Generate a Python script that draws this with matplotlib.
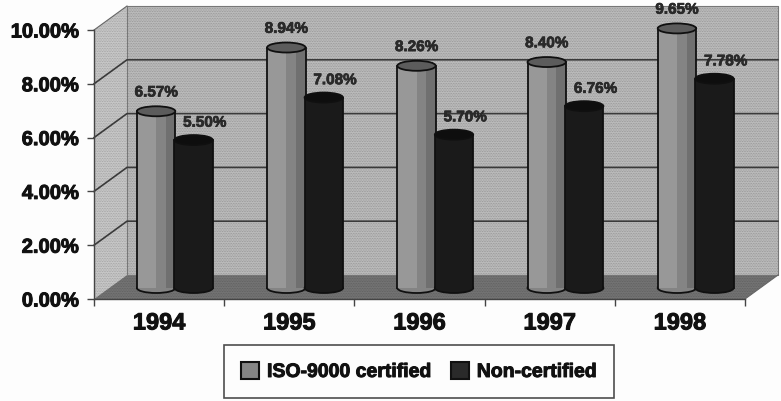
import matplotlib
matplotlib.use("Agg")
import matplotlib.pyplot as plt
import matplotlib.patheffects as pe
from matplotlib.patches import Ellipse, Patch, Polygon
from matplotlib.ticker import FuncFormatter

plt.rcParams['font.family'] = ['Liberation Sans', 'DejaVu Sans']
plt.rcParams['font.weight'] = 'bold'
plt.rcParams['hatch.linewidth'] = 0.4

years = ['1994', '1995', '1996', '1997', '1998']
iso_certified = [6.57, 8.94, 8.26, 8.40, 9.65]
non_certified = [5.50, 7.08, 5.70, 6.76, 7.78]
y_ticks = [0, 2, 4, 6, 8, 10]

W, H = 781, 402
# front plane of the 3d box, in pixels
LEFT, RIGHT, BOTTOM, TOP = 94, 745, 300, 31

fig = plt.figure(figsize=(W / 100, H / 100), dpi=100, facecolor='#fdfdfd')
ax = fig.add_axes([LEFT / W, 1 - BOTTOM / H, (RIGHT - LEFT) / W, (BOTTOM - TOP) / H])
ax.set_xlim(-0.5, 4.5)
ax.set_ylim(0, 10)
ax.patch.set_visible(False)

# depth of the box in data units
dx = 33 / ((RIGHT - LEFT) / 5)
dy = 24 / ((BOTTOM - TOP) / 10)
py = 10 / (BOTTOM - TOP)  # one pixel in y data units

line = '#3a3a3a'
x0, x1 = -0.5, 4.5

# walls and floor
ax.add_patch(Polygon([(x0 + dx, dy), (x1 + dx, dy), (x1 + dx, 10 + dy), (x0 + dx, 10 + dy)],
                     fc='#bcbcbc', ec='#8c8c8c', hatch='..........', lw=0, zorder=0, clip_on=False))
ax.add_patch(Polygon([(x0, 0), (x0 + dx, dy), (x0 + dx, 10 + dy), (x0, 10)],
                     fc='#c8c8c8', ec='#989898', hatch='..........', lw=0, zorder=0, clip_on=False))
ax.add_patch(Polygon([(x0, 0), (x1, 0), (x1 + dx, dy), (x0 + dx, dy)],
                     fc='#747474', ec='#5a5a5a', hatch='..........', lw=0, zorder=0.5, clip_on=False))
ax.plot([x0 + dx, x1 + dx, x1 + dx, x0 + dx, x0 + dx], [dy, dy, 10 + dy, 10 + dy, dy],
        color='#777777', lw=0.8, zorder=0.6, clip_on=False)
ax.plot([x0, x0 + dx], [10, 10 + dy], color='#666666', lw=0.8, zorder=0.6, clip_on=False)
ax.plot([x1, x1 + dx], [0, dy], color='#666666', lw=0.8, zorder=0.6, clip_on=False)

# grid lines on side and back wall
for t in y_ticks[1:-1]:
    ax.plot([x0, x0 + dx, x1 + dx], [t, t + dy, t + dy], color=line, lw=1.2, zorder=1, clip_on=False)


def cylinder(x, value, width, colors, top_color, bottom_color, z):
    base = 11 * py
    ell_h = 10 * py
    # one bar per facet, light to dark left to right
    n = len(colors)
    w = width / n
    ax.add_patch(Ellipse((x, base), width, ell_h, fc=bottom_color, ec='#101010', lw=1.3, zorder=z - 0.1, clip_on=False))
    for k, c in enumerate(colors):
        ax.bar(x - width / 2 + w * (k + 0.5), value, w, bottom=base, color=c, lw=0, zorder=z, clip_on=False)
    ax.plot([x - width / 2] * 2, [base, base + value], color='#101010', lw=1.3, zorder=z + 0.02, clip_on=False)
    ax.plot([x + width / 2] * 2, [base, base + value], color='#101010', lw=1.3, zorder=z + 0.02, clip_on=False)
    ax.add_patch(Ellipse((x, base + value), width, ell_h, fc=top_color, ec='#101010', lw=1.3, zorder=z + 0.03, clip_on=False))


bar_w = 0.295
off_grey = -0.023
off_dark = 0.265
halo = [pe.withStroke(linewidth=0.5, foreground='#222222')]
base_px = 11 * py

for i, year in enumerate(years):
    cylinder(i + off_grey, iso_certified[i], bar_w, ['#989898', '#989898', '#848484', '#707070'], '#5c5c5c', '#848484', 3)
    cylinder(i + off_dark, non_certified[i], bar_w, ['#1a1a1a'], '#0e0e0e', '#1a1a1a', 4)
    ax.annotate('%.2f%%' % iso_certified[i], (i + off_grey, iso_certified[i] + base_px), xytext=(0, 13.5),
                textcoords='offset points', ha='center', va='center', fontsize=11, color='#2a2a2a',
                zorder=6, annotation_clip=False, path_effects=halo)
    ax.annotate('%.2f%%' % non_certified[i], (i + off_dark, non_certified[i] + base_px), xytext=(8, 12.5),
                textcoords='offset points', ha='center', va='center', fontsize=11, color='#2a2a2a',
                zorder=6, annotation_clip=False, path_effects=halo)

# axes
for s in ['top', 'right']:
    ax.spines[s].set_visible(False)
for s in ['left', 'bottom']:
    ax.spines[s].set_color('#444444')
    ax.spines[s].set_linewidth(1.0)
    ax.spines[s].set_zorder(2)

ax.set_yticks(y_ticks)
ax.yaxis.set_major_formatter(FuncFormatter(lambda v, p: '%.2f%%' % v))
ax.tick_params(axis='y', length=5, width=1, color='#444444', labelsize=14.5, pad=6, labelcolor='#111111')
ax.set_xticks([i - 0.5 for i in range(len(years) + 1)])
ax.set_xticklabels([])
ax.set_xticks(range(len(years)), minor=True)
ax.set_xticklabels(years, minor=True, fontsize=17, color='#111111')
ax.tick_params(axis='x', which='major', length=5, width=1, color='#444444')
ax.tick_params(axis='x', which='minor', length=0, pad=9)
for lab in ax.get_yticklabels() + ax.get_xticklabels(minor=True):
    lab.set_path_effects([pe.withStroke(linewidth=0.7, foreground='#111111')])

# legend
handles = [Patch(fc='#868686', ec='#111111', lw=1.5, label='ISO-9000 certified'),
           Patch(fc='#2a2a2a', ec='#111111', lw=1.5, label='Non-certified')]
leg = fig.legend(handles=handles, ncol=2, loc='center',
                 bbox_to_anchor=((225 + 613) / 2 / W, 1 - (345 + 400) / 2 / H),
                 fontsize=14, frameon=True, fancybox=False, edgecolor='#222222', facecolor='#fdfdfd',
                 handlelength=0.93, handleheight=0.93, handletextpad=0.41, columnspacing=1.0,
                 borderpad=0.87, borderaxespad=0, labelcolor='#111111')
leg.get_frame().set_linewidth(1.2)
for t in leg.get_texts():
    t.set_path_effects([pe.withStroke(linewidth=0.7, foreground='#111111')])

fig.savefig('out.png', dpi=100, facecolor=fig.get_facecolor())
